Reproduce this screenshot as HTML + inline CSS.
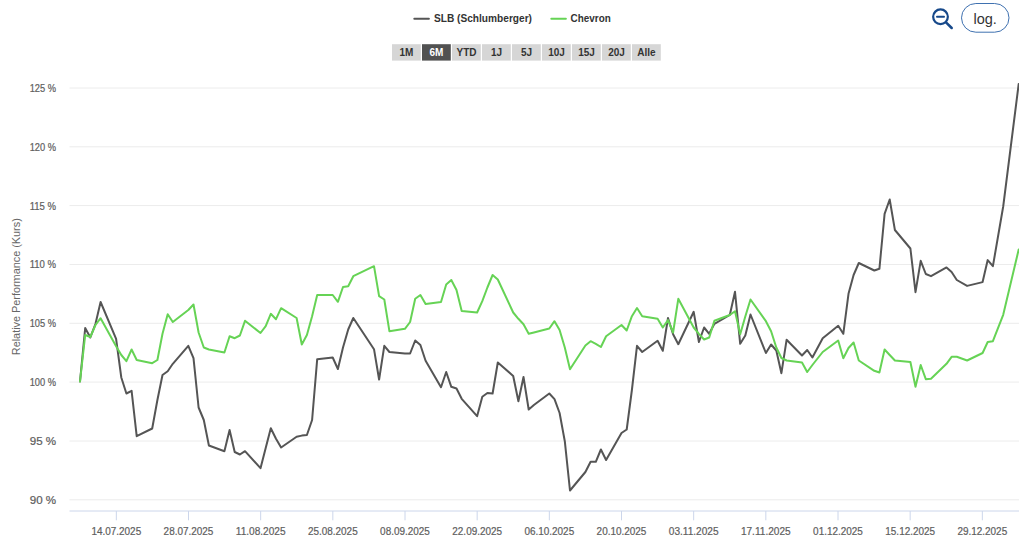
<!DOCTYPE html>
<html lang="de"><head><meta charset="utf-8"><title>Relative Performance</title>
<style>
html,body{margin:0;padding:0;background:#fff;}
body{width:1024px;height:541px;overflow:hidden;font-family:"Liberation Sans",sans-serif;}
svg{display:block;position:absolute;left:0;top:0}
.al{font-family:"Liberation Sans",sans-serif;font-size:10px;fill:#5e5e5e;stroke:#5e5e5e;stroke-width:0.2px}
.bt{font-family:"Liberation Sans",sans-serif;font-size:10px;font-weight:bold}
.lg{font-family:"Liberation Sans",sans-serif;font-size:11px;font-weight:bold;fill:#333333}
.yt{font-family:"Liberation Sans",sans-serif;font-size:11px;fill:#666666}
.log{font-family:"Liberation Sans",sans-serif;font-size:15.4px;fill:#333333}
</style></head><body>
<svg width="1024" height="541" viewBox="0 0 1024 541">
<rect width="1024" height="541" fill="#ffffff"/>
<!-- legend -->
<path d="M414.3 18.8H428.9" stroke="#555555" stroke-width="2" stroke-linecap="round"/>
<text x="434" y="22.1" class="lg" textLength="98" lengthAdjust="spacingAndGlyphs">SLB (Schlumberger)</text>
<path d="M551.3 18.8H565.9" stroke="#66d355" stroke-width="2" stroke-linecap="round"/>
<text x="570.6" y="22.1" class="lg" textLength="40.2" lengthAdjust="spacingAndGlyphs">Chevron</text>
<!-- range buttons -->
<rect x="392" y="44.2" width="28.8" height="16.4" fill="#d6d6d6"/><text x="406.5" y="56.3" text-anchor="middle" class="bt" fill="#333333">1M</text>
<rect x="422" y="44.2" width="28.8" height="16.4" fill="#515151"/><text x="436.5" y="56.3" text-anchor="middle" class="bt" fill="#ffffff">6M</text>
<rect x="452" y="44.2" width="28.8" height="16.4" fill="#d6d6d6"/><text x="466.5" y="56.3" text-anchor="middle" class="bt" fill="#333333">YTD</text>
<rect x="482" y="44.2" width="28.8" height="16.4" fill="#d6d6d6"/><text x="496.5" y="56.3" text-anchor="middle" class="bt" fill="#333333">1J</text>
<rect x="512" y="44.2" width="28.8" height="16.4" fill="#d6d6d6"/><text x="526.5" y="56.3" text-anchor="middle" class="bt" fill="#333333">5J</text>
<rect x="542" y="44.2" width="28.8" height="16.4" fill="#d6d6d6"/><text x="556.5" y="56.3" text-anchor="middle" class="bt" fill="#333333">10J</text>
<rect x="572" y="44.2" width="28.8" height="16.4" fill="#d6d6d6"/><text x="586.5" y="56.3" text-anchor="middle" class="bt" fill="#333333">15J</text>
<rect x="602" y="44.2" width="28.8" height="16.4" fill="#d6d6d6"/><text x="616.5" y="56.3" text-anchor="middle" class="bt" fill="#333333">20J</text>
<rect x="632" y="44.2" width="28.8" height="16.4" fill="#d6d6d6"/><text x="646.5" y="56.3" text-anchor="middle" class="bt" fill="#333333">Alle</text>

<!-- zoom icon -->
<g fill="none" stroke="#17498a" stroke-width="2.2" stroke-linecap="round">
<circle cx="940.5" cy="16.8" r="7.35"/>
<path d="M946 22.3L951.7 28" stroke-width="2.5"/>
<path d="M937 16.8H944" stroke-width="2"/>
</g>
<rect x="961.5" y="3.5" width="47.5" height="28.7" rx="14.35" ry="14.35" fill="#ffffff" stroke="#3f71b0" stroke-width="1"/>
<text x="985.2" y="23.5" text-anchor="middle" class="log" textLength="23.4" lengthAdjust="spacingAndGlyphs">log.</text>
<!-- grid -->
<path d="M69.5 499.8H1019" stroke="#ececec" stroke-width="1"/>
<path d="M69.5 441.0H1019" stroke="#ececec" stroke-width="1"/>
<path d="M69.5 382.1H1019" stroke="#ececec" stroke-width="1"/>
<path d="M69.5 323.3H1019" stroke="#ececec" stroke-width="1"/>
<path d="M69.5 264.5H1019" stroke="#ececec" stroke-width="1"/>
<path d="M69.5 205.6H1019" stroke="#ececec" stroke-width="1"/>
<path d="M69.5 146.8H1019" stroke="#ececec" stroke-width="1"/>
<path d="M69.5 88.0H1019" stroke="#ececec" stroke-width="1"/>

<path d="M69.5 511H1019" stroke="#ccd6eb" stroke-width="1"/>
<path d="M116.33 511V520.3" stroke="#ccd6eb" stroke-width="1"/>
<path d="M188.50 511V520.3" stroke="#ccd6eb" stroke-width="1"/>
<path d="M260.67 511V520.3" stroke="#ccd6eb" stroke-width="1"/>
<path d="M332.84 511V520.3" stroke="#ccd6eb" stroke-width="1"/>
<path d="M405.00 511V520.3" stroke="#ccd6eb" stroke-width="1"/>
<path d="M477.17 511V520.3" stroke="#ccd6eb" stroke-width="1"/>
<path d="M549.34 511V520.3" stroke="#ccd6eb" stroke-width="1"/>
<path d="M621.50 511V520.3" stroke="#ccd6eb" stroke-width="1"/>
<path d="M693.67 511V520.3" stroke="#ccd6eb" stroke-width="1"/>
<path d="M765.84 511V520.3" stroke="#ccd6eb" stroke-width="1"/>
<path d="M838.01 511V520.3" stroke="#ccd6eb" stroke-width="1"/>
<path d="M910.17 511V520.3" stroke="#ccd6eb" stroke-width="1"/>
<path d="M982.34 511V520.3" stroke="#ccd6eb" stroke-width="1"/>

<text x="56.1" y="503.7" text-anchor="end" class="al" textLength="26.4" lengthAdjust="spacingAndGlyphs">90 %</text>
<text x="56.1" y="444.9" text-anchor="end" class="al" textLength="26.4" lengthAdjust="spacingAndGlyphs">95 %</text>
<text x="56.1" y="386.0" text-anchor="end" class="al" textLength="26.4" lengthAdjust="spacingAndGlyphs">100 %</text>
<text x="56.1" y="327.2" text-anchor="end" class="al" textLength="26.4" lengthAdjust="spacingAndGlyphs">105 %</text>
<text x="56.1" y="268.4" text-anchor="end" class="al" textLength="26.4" lengthAdjust="spacingAndGlyphs">110 %</text>
<text x="56.1" y="209.5" text-anchor="end" class="al" textLength="26.4" lengthAdjust="spacingAndGlyphs">115 %</text>
<text x="56.1" y="150.7" text-anchor="end" class="al" textLength="26.4" lengthAdjust="spacingAndGlyphs">120 %</text>
<text x="56.1" y="91.9" text-anchor="end" class="al" textLength="26.4" lengthAdjust="spacingAndGlyphs">125 %</text>

<text x="116.3" y="534.8" text-anchor="middle" class="al" textLength="49.8" lengthAdjust="spacingAndGlyphs">14.07.2025</text>
<text x="188.5" y="534.8" text-anchor="middle" class="al" textLength="49.8" lengthAdjust="spacingAndGlyphs">28.07.2025</text>
<text x="260.7" y="534.8" text-anchor="middle" class="al" textLength="49.8" lengthAdjust="spacingAndGlyphs">11.08.2025</text>
<text x="332.8" y="534.8" text-anchor="middle" class="al" textLength="49.8" lengthAdjust="spacingAndGlyphs">25.08.2025</text>
<text x="405.0" y="534.8" text-anchor="middle" class="al" textLength="49.8" lengthAdjust="spacingAndGlyphs">08.09.2025</text>
<text x="477.2" y="534.8" text-anchor="middle" class="al" textLength="49.8" lengthAdjust="spacingAndGlyphs">22.09.2025</text>
<text x="549.3" y="534.8" text-anchor="middle" class="al" textLength="49.8" lengthAdjust="spacingAndGlyphs">06.10.2025</text>
<text x="621.5" y="534.8" text-anchor="middle" class="al" textLength="49.8" lengthAdjust="spacingAndGlyphs">20.10.2025</text>
<text x="693.7" y="534.8" text-anchor="middle" class="al" textLength="49.8" lengthAdjust="spacingAndGlyphs">03.11.2025</text>
<text x="765.8" y="534.8" text-anchor="middle" class="al" textLength="49.8" lengthAdjust="spacingAndGlyphs">17.11.2025</text>
<text x="838.0" y="534.8" text-anchor="middle" class="al" textLength="49.8" lengthAdjust="spacingAndGlyphs">01.12.2025</text>
<text x="910.2" y="534.8" text-anchor="middle" class="al" textLength="49.8" lengthAdjust="spacingAndGlyphs">15.12.2025</text>
<text x="982.3" y="534.8" text-anchor="middle" class="al" textLength="49.8" lengthAdjust="spacingAndGlyphs">29.12.2025</text>

<text transform="translate(20.2 286.7) rotate(-90)" text-anchor="middle" class="yt" textLength="137" lengthAdjust="spacingAndGlyphs">Relative Performance (Kurs)</text>
<!-- series -->
<clipPath id="cp"><rect x="69.5" y="60" width="949.5" height="451"/></clipPath>
<g clip-path="url(#cp)" fill="none" stroke-width="2" stroke-linejoin="round" stroke-linecap="round">
<polyline stroke="#555555" points="80.0,381.5 85.2,328.0 90.3,337.5 95.5,323.8 100.6,302.0 116.1,338.8 121.3,377.5 126.4,393.5 131.6,390.8 136.7,436.2 152.2,428.5 157.4,400.0 162.5,375.0 167.7,371.2 172.8,363.8 188.3,345.8 193.5,358.2 198.6,407.5 203.8,420.0 208.9,445.5 224.4,451.2 229.6,430.0 234.7,452.0 239.9,454.5 245.0,451.2 260.5,468.2 265.7,448.0 270.8,428.2 276.0,438.8 281.1,447.5 296.6,436.8 301.8,435.6 306.9,435.0 312.1,420.0 317.2,359.2 332.7,357.5 337.9,369.0 343.0,347.5 348.2,329.5 353.3,318.0 374.0,349.2 379.1,379.5 384.3,345.8 389.4,352.0 404.9,353.5 410.1,353.5 415.2,340.5 420.4,345.0 425.6,360.8 441.0,387.2 446.2,372.0 451.3,386.8 456.5,388.5 461.7,398.8 477.1,416.2 482.3,396.8 487.4,393.0 492.6,393.5 497.8,362.5 513.2,376.0 518.4,401.2 523.5,377.0 528.7,409.5 533.9,405.0 549.3,393.5 554.5,399.2 559.6,413.0 564.8,441.2 570.0,490.5 585.4,472.0 590.6,461.8 595.8,461.8 600.9,449.5 606.1,460.0 621.5,433.0 626.7,429.5 631.9,390.0 637.0,345.8 642.2,352.0 657.6,340.8 662.8,350.8 668.0,318.0 673.1,334.2 678.3,344.2 693.7,311.8 698.9,342.0 704.1,327.5 709.2,333.8 714.4,323.8 729.8,315.0 735.0,291.8 740.2,343.8 745.3,335.5 750.5,314.5 765.9,353.0 771.1,344.5 776.3,350.5 781.4,373.2 786.6,339.8 802.0,355.5 807.2,350.0 812.4,357.5 822.7,338.2 838.2,325.8 843.3,333.8 848.5,293.8 853.6,275.0 858.8,263.0 874.3,270.5 879.4,268.8 884.6,213.8 889.7,199.5 894.9,230.0 910.4,248.5 915.5,292.2 920.7,260.8 925.8,274.0 931.0,276.2 946.5,267.4 951.6,272.0 956.8,280.0 967.1,285.9 982.6,282.1 987.7,260.1 992.9,266.2 1003.2,206.5 1018.7,84.0"/>
<polyline stroke="#66d355" points="80.0,381.5 85.2,335.0 90.3,337.0 95.5,325.0 100.6,318.2 116.1,346.2 121.3,355.0 126.4,361.2 131.6,349.5 136.7,360.0 152.2,363.2 157.4,360.0 162.5,333.8 167.7,314.2 172.8,322.0 188.3,310.0 193.5,304.5 198.6,332.5 203.8,347.5 208.9,349.5 224.4,352.5 229.6,336.2 234.7,338.2 239.9,335.5 245.0,320.8 260.5,333.0 265.7,326.2 270.8,313.8 276.0,319.2 281.1,308.2 296.6,318.0 301.8,344.5 306.9,335.0 312.1,316.2 317.2,295.0 332.7,295.0 337.9,301.8 343.0,287.0 348.2,286.2 353.3,276.2 374.0,266.2 379.1,296.2 384.3,299.5 389.4,331.2 404.9,328.8 410.1,322.0 415.2,298.8 420.4,295.0 425.6,304.0 441.0,302.0 446.2,284.5 451.3,280.0 456.5,290.0 461.7,311.0 477.1,312.5 482.3,301.2 487.4,287.5 492.6,275.0 497.8,279.5 513.2,312.5 518.4,318.8 523.5,324.2 528.7,333.8 533.9,332.5 549.3,328.5 554.5,321.2 559.6,330.0 564.8,347.5 570.0,369.2 585.4,345.5 590.6,341.2 595.8,343.8 600.9,347.0 606.1,336.2 621.5,325.0 626.7,330.5 631.9,316.2 637.0,308.0 642.2,316.2 657.6,318.8 662.8,327.5 668.0,320.0 673.1,332.5 678.3,298.8 693.7,327.5 698.9,333.8 704.1,339.5 709.2,337.5 714.4,320.8 729.8,315.0 735.0,311.2 740.2,334.2 745.3,316.5 750.5,299.5 765.9,321.2 771.1,331.2 776.3,347.5 781.4,358.0 786.6,360.5 802.0,362.5 807.2,372.0 812.4,365.0 822.7,352.0 838.2,340.5 843.3,358.2 848.5,348.0 853.6,342.5 858.8,360.5 874.3,370.8 879.4,372.5 884.6,349.5 889.7,355.0 894.9,360.5 910.4,362.0 915.5,386.8 920.7,365.0 925.8,379.2 931.0,378.8 946.5,363.8 951.6,356.8 956.8,356.8 967.1,360.5 982.6,353.0 987.7,342.0 992.9,341.2 1003.2,314.8 1018.7,249.5"/>
</g>
</svg>
</body></html>
